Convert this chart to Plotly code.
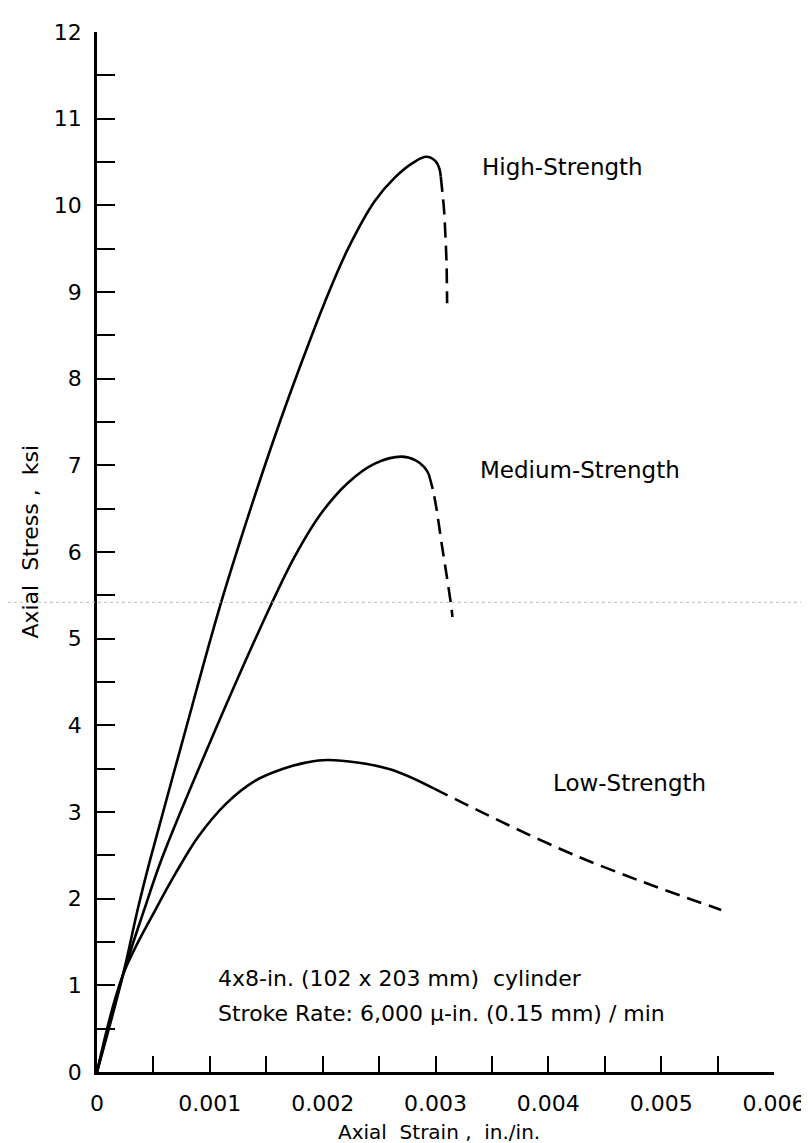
import plotly.graph_objects as go

# ---- data (strain in in./in., stress in ksi) ----
high_solid_x = [0, 0.00023, 0.000363, 0.000473, 0.00075, 0.001087, 0.001339, 0.001575,
                0.001811, 0.002018, 0.002225, 0.002462, 0.002639, 0.00280, 0.00292,
                0.00300, 0.003035, 0.003047]
high_solid_y = [0, 1.12, 1.89, 2.46, 3.78, 5.36, 6.41, 7.33,
                8.18, 8.88, 9.50, 10.05, 10.32, 10.49, 10.56,
                10.51, 10.42, 10.33]
high_dash_x = [0.003047, 0.003065, 0.003076, 0.003097, 0.003103]
high_dash_y = [10.33, 10.10, 9.94, 9.37, 8.87]

med_solid_x = [0, 0.00023, 0.000423, 0.000574, 0.00100, 0.001531, 0.001753, 0.001989,
               0.002225, 0.002462, 0.002698, 0.00282, 0.00290, 0.00294]
med_solid_y = [0, 1.12, 1.89, 2.46, 3.80, 5.36, 5.95, 6.45,
               6.80, 7.02, 7.10, 7.06, 6.98, 6.90]
med_dash_x = [0.00294, 0.00298, 0.00301, 0.003053, 0.00310, 0.003141, 0.00315]
med_dash_y = [6.90, 6.70, 6.49, 6.11, 5.72, 5.36, 5.25]

low_solid_x = [0, 0.00023, 0.000526, 0.00070, 0.00090, 0.001147, 0.0014, 0.00165,
               0.00185, 0.00205, 0.00258, 0.002988]
low_solid_y = [0, 1.12, 1.89, 2.30, 2.72, 3.10, 3.36, 3.50,
               3.57, 3.60, 3.50, 3.27]
low_dash_x = [0.002988, 0.003644, 0.004235, 0.004823, 0.005532]
low_dash_y = [3.27, 2.85, 2.50, 2.20, 1.87]

x_tick_vals = [0, 0.001, 0.002, 0.003, 0.004, 0.005, 0.006]
x_tick_text = ["0", "0.001", "0.002", "0.003", "0.004", "0.005", "0.006"]
y_tick_vals = list(range(0, 13))
y_tick_text = [str(v) for v in y_tick_vals]

curve_labels = ["High-Strength", "Medium-Strength", "Low-Strength"]
curve_label_x = [0.003393, 0.00338, 0.004025]
curve_label_y = [10.44, 6.95, 3.34]

note_lines = ["4x8-in. (102 x 203 mm)  cylinder",
              "Stroke Rate: 6,000 \u03bc-in. (0.15 mm) / min"]
note_x = [0.001055, 0.001055]
note_y = [1.08, 0.68]

FONT = "DejaVu Sans"
LW = 2.6

fig = go.Figure()
for sx, sy, dx, dy in [(high_solid_x, high_solid_y, high_dash_x, high_dash_y),
                       (med_solid_x, med_solid_y, med_dash_x, med_dash_y),
                       (low_solid_x, low_solid_y, low_dash_x, low_dash_y)]:
    fig.add_trace(go.Scatter(x=sx, y=sy, mode="lines",
                             line=dict(color="black", width=LW, shape="spline", smoothing=1.0),
                             showlegend=False, hoverinfo="skip"))
    fig.add_trace(go.Scatter(x=dx, y=dy, mode="lines",
                             line=dict(color="black", width=LW, dash="15px,8px",
                                       shape="spline", smoothing=0.8),
                             showlegend=False, hoverinfo="skip"))

for t, x, y in zip(curve_labels, curve_label_x, curve_label_y):
    fig.add_annotation(x=x, y=y, xref="x", yref="y", text=t, showarrow=False,
                       xanchor="left", yanchor="middle",
                       font=dict(family=FONT, size=23, color="black"))

for t, x, y in zip(note_lines, note_x, note_y):
    fig.add_annotation(x=x, y=y, xref="x", yref="y", text=t, showarrow=False,
                       xanchor="left", yanchor="middle",
                       font=dict(family=FONT, size=22, color="black"))

# axis titles
fig.add_annotation(x=0.353, y=-0.0576, xref="paper", yref="paper",
                   text="Axial  Strain ,  in./in.", showarrow=False,
                   xanchor="left", yanchor="middle",
                   font=dict(family=FONT, size=20, color="black"))
fig.add_annotation(x=-0.0975, y=0.51, xref="paper", yref="paper",
                   text="Axial  Stress ,  ksi", showarrow=False, textangle=-90,
                   xanchor="center", yanchor="middle",
                   font=dict(family=FONT, size=22, color="black"))

# faint scan artifact line
fig.add_shape(type="line", xref="paper", yref="y", x0=-0.1315, x1=1.0635, y0=5.42, y1=5.42,
              line=dict(color="#bbbbbb", width=1, dash="dot"))

fig.update_xaxes(range=[0, 0.006], tickmode="array", tickvals=x_tick_vals, ticktext=x_tick_text,
                 ticks="inside", ticklen=16, tickwidth=2, tickcolor="black",
                 minor=dict(ticks="inside", ticklen=16, tickwidth=2, tickcolor="black", dtick=0.0005),
                 showline=True, linecolor="black", linewidth=2.5, showgrid=False, zeroline=False,
                 ticklabelstandoff=10,
                 tickfont=dict(family=FONT, size=22, color="black"))
fig.update_yaxes(range=[0, 12], tickmode="array", tickvals=y_tick_vals, ticktext=y_tick_text,
                 ticks="inside", ticklen=18, tickwidth=2, tickcolor="black",
                 minor=dict(ticks="inside", ticklen=18, tickwidth=2, tickcolor="black", dtick=0.5),
                 showline=True, linecolor="black", linewidth=2.5, showgrid=False, zeroline=False,
                 ticklabelstandoff=8,
                 tickfont=dict(family=FONT, size=22, color="black"))

fig.update_layout(width=809, height=1143,
                  margin=dict(l=89, r=43, t=22, b=79),
                  paper_bgcolor="white", plot_bgcolor="white",
                  showlegend=False)

fig.write_html("out.html")
